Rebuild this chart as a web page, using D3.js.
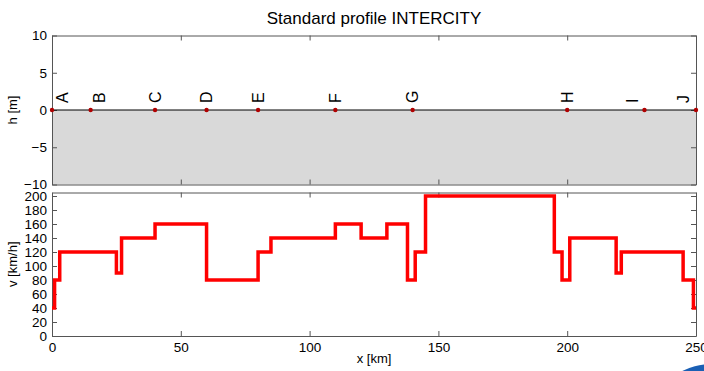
<!DOCTYPE html>
<html>
<head>
<meta charset="utf-8">
<script src="https://cdn.jsdelivr.net/npm/d3@7"></script>
<style>
  body { margin: 0; background: #fff; }
  svg text { font-family: "Liberation Sans", Arial, sans-serif; }
</style>
</head>
<body>
<svg id="chart" width="704" height="371"></svg>
<script>
// stations along the line
var stations = ["A", "B", "C", "D", "E", "F", "G", "H", "I", "J"];
var stationKm = [0, 15, 40, 60, 80, 110, 140, 200, 230, 250];
var labelKm = [4, 18.5, 40, 60, 80, 110, 140, 200, 225.5, 245];

// speed profile: breakpoints (km) and speed on each section (km/h)
var breakKm = [0, 1, 3, 25, 27, 40, 60, 80, 85, 110, 120, 130, 138, 141, 145, 195, 198, 201, 219, 221, 245, 249, 250];
var speeds = [40, 80, 120, 90, 140, 160, 80, 120, 140, 160, 140, 160, 80, 120, 200, 120, 80, 140, 90, 120, 80, 40];

var xTicks = [0, 50, 100, 150, 200, 250];
var hTicks = [-10, -5, 0, 5, 10];
var vTicks = [0, 20, 40, 60, 80, 100, 120, 140, 160, 180, 200];

var svg = d3.select("#chart");
var frame = "#555";

var x = d3.scaleLinear().domain([0, 250]).range([52, 696]);
var yh = d3.scaleLinear().domain([-10, 10]).range([184.5, 35.5]);
var yv = d3.scaleLinear().domain([0, 205]).range([336, 192.5]);

//Title
svg.append("text")
  .attr("x", 374).attr("y", 24)
  .attr("text-anchor", "middle")
  .attr("font-size", "17px")
  .text("Standard profile INTERCITY");

// matlab style box with inward ticks
var box = function (g, y, yticks, showX) {
  var y0 = y.range()[0], y1 = y.range()[1];
  g.append("g")
    .attr("transform", "translate(0," + y0 + ")")
    .call(d3.axisBottom(x).tickValues(xTicks).tickSizeInner(-5).tickSizeOuter(0).tickPadding(6)
      .tickFormat(showX ? d3.format("d") : function () { return "" }));
  g.append("g")
    .attr("transform", "translate(0," + y1 + ")")
    .call(d3.axisTop(x).tickValues(xTicks).tickSizeInner(-5).tickSizeOuter(0).tickFormat(""));
  g.append("g")
    .attr("transform", "translate(" + x(0) + ",0)")
    .call(d3.axisLeft(y).tickValues(yticks).tickSizeInner(-5).tickSizeOuter(0).tickPadding(5)
      .tickFormat(function (d) { return d < 0 ? "\u2212" + (-d) : d }));
  g.append("g")
    .attr("transform", "translate(" + x(250) + ",0)")
    .call(d3.axisRight(y).tickValues(yticks).tickSizeInner(-5).tickSizeOuter(0).tickFormat(""));
  g.selectAll(".domain").attr("stroke", frame);
  g.selectAll(".tick line").attr("stroke", frame);
  g.selectAll(".tick text").attr("font-size", "13.5px").attr("fill", "#000")
    .attr("font-family", "Liberation Sans, Arial, sans-serif");
};

// --- height panel
var hPanel = svg.append("g");
hPanel.append("rect")
  .attr("x", x(0)).attr("y", yh(0))
  .attr("width", x(250) - x(0)).attr("height", yh(-10) - yh(0))
  .attr("fill", "#d9d9d9");
box(hPanel, yh, hTicks, false);
hPanel.append("line")
  .attr("x1", x(0)).attr("x2", x(250))
  .attr("y1", yh(0)).attr("y2", yh(0))
  .attr("stroke", "#000").attr("stroke-width", 1);
hPanel.selectAll("circle")
  .data(stationKm)
  .enter()
  .append("circle")
  .attr("cx", function (d) { return x(d) })
  .attr("cy", yh(0))
  .attr("r", 2.2)
  .attr("fill", "#b00000");
hPanel.selectAll("text.stn")
  .data(stations)
  .enter()
  .append("text")
  .attr("class", "stn")
  .attr("transform", function (d, i) { return "translate(" + x(labelKm[i]) + "," + (yh(0) - 7) + ") rotate(-90)" })
  .attr("dy", "0.35em")
  .attr("font-size", "16px")
  .text(function (d) { return d });
svg.append("text")
  .attr("transform", "translate(17," + yh(0) + ") rotate(-90)")
  .attr("text-anchor", "middle")
  .attr("font-size", "13px")
  .text("h [m]");

// --- speed panel
var vPanel = svg.append("g");
box(vPanel, yv, vTicks, true);
var steps = speeds.map(function (v, i) { return [breakKm[i], v] });
steps.push([breakKm[breakKm.length - 1], speeds[speeds.length - 1]]);
vPanel.append("path")
  .datum(steps)
  .attr("fill", "none")
  .attr("stroke", "#ff0000")
  .attr("stroke-width", 3.5)
  .attr("d", d3.line().curve(d3.curveStepAfter)
    .x(function (d) { return x(d[0]) })
    .y(function (d) { return yv(d[1]) }));
svg.append("text")
  .attr("transform", "translate(17," + yv(102.5) + ") rotate(-90)")
  .attr("text-anchor", "middle")
  .attr("font-size", "13px")
  .text("v [km/h]");
svg.append("text")
  .attr("x", x(125)).attr("y", 363)
  .attr("text-anchor", "middle")
  .attr("font-size", "13px")
  .text("x [km]");

// logo corner
svg.append("ellipse")
  .attr("cx", 712).attr("cy", 392)
  .attr("rx", 45).attr("ry", 28)
  .attr("fill", "#1a5fb4");
</script>
</body>
</html>
